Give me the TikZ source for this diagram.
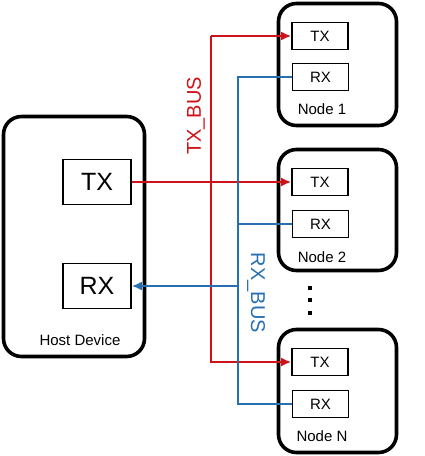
\documentclass[tikz,border=0pt]{standalone}
\usepackage{fontspec}
\setmainfont{Liberation Sans}
\usepackage{tikz}
\usetikzlibrary{arrows.meta}
\definecolor{busred}{RGB}{206,18,24}
\definecolor{busblue}{RGB}{38,112,178}
\tikzset{
    device/.style={draw=black, line width=3.6pt, rounded corners=18pt, inner sep=0pt},
    port/.style={draw=black, line width=1.6pt, inner sep=0pt},
    txline/.style={draw=busred, line width=2pt},
    rxline/.style={draw=busblue, line width=2pt},
    >={Latex[length=10pt,width=9pt]}}

\begin{document}
\begin{tikzpicture}[x=1pt, y=-1pt]
            \useasboundingbox (0,0) rectangle (424,456);

            % host
            \node[device, minimum width=141pt, minimum height=240pt] (host) at (74,236.5) {};
            \node[port, minimum width=68pt, minimum height=45pt, font=\fontsize{25}{25}\selectfont] (hosttx) at (97,182) {TX};
            \node[port, minimum width=68pt, minimum height=45pt, font=\fontsize{25}{25}\selectfont] (hostrx) at (97,286) {RX};
            \node[font=\fontsize{15}{15}\selectfont] (hostlbl) at (80,340) {Host Device};

            % nodes
            \node[device, minimum width=118pt, minimum height=122pt] (n1) at (337.5,64.5) {};
            \node[device, minimum width=118pt, minimum height=121pt] (n2) at (337.5,210) {};
            \node[device, minimum width=118pt, minimum height=123pt] (nN) at (337.5,391) {};
            \node[port, minimum width=56pt, minimum height=27pt, font=\fontsize{15}{15}\selectfont] (tx1) at (320,36) {TX};
            \node[port, minimum width=56pt, minimum height=27pt, font=\fontsize{15}{15}\selectfont] (rx1) at (320.5,77) {RX};
            \node[port, minimum width=56pt, minimum height=27pt, font=\fontsize{15}{15}\selectfont] (tx2) at (320,182) {TX};
            \node[port, minimum width=56pt, minimum height=27pt, font=\fontsize{15}{15}\selectfont] (rx2) at (320.5,224) {RX};
            \node[port, minimum width=56pt, minimum height=27pt, font=\fontsize{15}{15}\selectfont] (txN) at (320,362) {TX};
            \node[port, minimum width=56pt, minimum height=27pt, font=\fontsize{15}{15}\selectfont] (rxN) at (320.5,404) {RX};
            \node[font=\fontsize{15}{15}\selectfont] (n1lbl) at (322,109) {Node 1};
            \node[font=\fontsize{15}{15}\selectfont] (n2lbl) at (322,257) {Node 2};
            \node[font=\fontsize{15}{15}\selectfont] (nNlbl) at (322,436) {Node N};

            \foreach \y/\n in {288/a, 300/b, 313/c}
                \node[shape=rectangle, fill=black, inner sep=0pt, minimum size=4pt] (dot\n) at (310,\y) {};

            % buses
            \coordinate (txtop) at (211,36);
            \coordinate (txbot) at (211,362);
            \coordinate (rxtop) at (238,77);
            \coordinate (rxmid) at (238,286);
            \coordinate (rxbot) at (238,404);

            \draw[txline, ->] (txtop) -- (tx1.west);
            \draw[txline, ->] (txtop) -- (txbot) -- (txN.west);
            \draw[txline, ->] (hosttx.east) -- (tx2.west);
            \draw[rxline] (rx1.west) -- (rxtop) -- (rxbot) -- (rxN.west);
            \draw[rxline] (rx2.west) -- (rx2.west -| rxtop);
            \draw[rxline, ->] (rxmid) -- (hostrx.east);

            \node[text=busred, rotate=90, font=\fontsize{20}{20}\selectfont] (txbus) at (196,116) {TX\_BUS};
            \node[text=busblue, rotate=-90, font=\fontsize{20}{20}\selectfont] (rxbus) at (256,293) {RX\_BUS};

        \end{tikzpicture}
\end{document}
